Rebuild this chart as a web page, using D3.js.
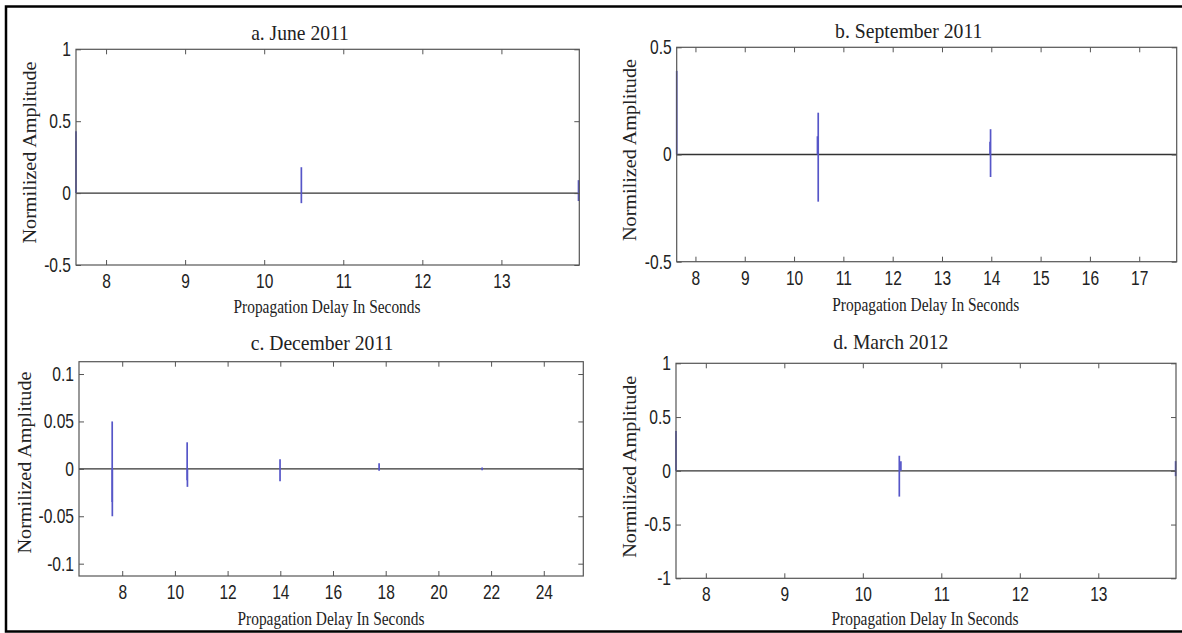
<!DOCTYPE html>
<html>
<head>
<meta charset="utf-8">
<script src="https://cdn.jsdelivr.net/npm/d3@7/dist/d3.min.js"></script>
<style>
  html, body { margin: 0; padding: 0; background: #fff; }
  svg { display: block; }
</style>
</head>
<body>
<script>
// ---------------- DATA ----------------
const titles = ["a. June 2011", "b. September 2011", "c. December 2011", "d. March 2012"];
const xLabel = "Propagation Delay In Seconds";
const yLabel = "Normilized Amplitude";

const xDomains = [[7.62, 13.985], [7.62, 17.76], [6.36, 25.5], [7.62, 13.99]];
const yDomains = [[-0.5, 1], [-0.5, 0.5], [-0.113, 0.113], [-1, 1]];

const xTicks = [
  [8, 9, 10, 11, 12, 13],
  [8, 9, 10, 11, 12, 13, 14, 15, 16, 17],
  [8, 10, 12, 14, 16, 18, 20, 22, 24],
  [8, 9, 10, 11, 12, 13]
];
const yTicks = [
  [-0.5, 0, 0.5, 1],
  [-0.5, 0, 0.5],
  [-0.1, -0.05, 0, 0.05, 0.1],
  [-1, -0.5, 0, 0.5, 1]
];

// spikes: delay (s), upper and lower amplitude of each vertical stroke
const juneDelay = [7.62, 10.47, 13.975];
const juneHigh  = [0.43, 0.18, 0.09];
const juneLow   = [0, -0.07, -0.055];

const septDelay = [7.62, 10.475, 10.49, 13.975, 13.985];
const septHigh  = [0.39, 0.085, 0.195, 0.06, 0.118];
const septLow   = [0, 0, -0.22, 0, -0.105];

const decDelay = [7.62, 7.625, 10.465, 10.475, 13.99, 17.75, 21.66];
const decHigh  = [0.05, 0, 0.028, 0, 0.01, 0.006, 0.0015];
const decLow   = [-0.035, -0.05, -0.012, -0.019, -0.013, -0.002, -0.0015];

const marDelay = [7.62, 10.465, 10.485, 13.985];
const marHigh  = [0.37, 0.14, 0.09, 0.09];
const marLow   = [0, -0.24, 0, -0.05];

const spikeSets = [
  [juneDelay, juneHigh, juneLow],
  [septDelay, septHigh, septLow],
  [decDelay, decHigh, decLow],
  [marDelay, marHigh, marLow]
];

// ---------------- LAYOUT ----------------
const W = 1182, H = 633;
const layout = [
  {l: 76,    t: 49.3,  r: 579.3,  b: 265,   tx: 300,   ty: 40,    tw: 97.7,  xlx: 327,   xly: 312.5, ylx: 36,  yly: 152.5},
  {l: 676.7, t: 47.3,  r: 1176.7, b: 261.7, tx: 908.7, ty: 38.3,  tw: 147.3, xlx: 925.8, xly: 311,   ylx: 636, yly: 150},
  {l: 79,    t: 361.7, r: 583.3,  b: 576,   tx: 322,   ty: 350,   tw: 142.6, xlx: 331,   xly: 625,   ylx: 31,  yly: 462.5},
  {l: 676,   t: 363.3, r: 1176,   b: 578.3, tx: 890.8, ty: 349.3, tw: 115,   xlx: 925,   xly: 625,   ylx: 636, yly: 466.7}
];

const axisColor = "#555";
const spikeColor = "#5656c8";
const textColor = "#222";

const svg = d3.select("body").append("svg")
  .attr("width", W).attr("height", H);

svg.append("rect").attr("x", 0).attr("y", 0).attr("width", W).attr("height", H).attr("fill", "#fff");

// outer frame
svg.append("path")
  .attr("d", `M${W + 5},6.5 L6,6.5 L6,631.5 L${W + 5},631.5`)
  .attr("fill", "none").attr("stroke", "#000").attr("stroke-width", 2.5);

const fmt = d => String(+(+d).toFixed(3));

layout.forEach((L, i) => {
  const x = d3.scaleLinear().domain(xDomains[i]).range([L.l, L.r]);
  const y = d3.scaleLinear().domain(yDomains[i]).range([L.b, L.t]);
  const g = svg.append("g");

  // zero line
  g.append("line")
    .attr("x1", L.l).attr("x2", L.r)
    .attr("y1", y(0)).attr("y2", y(0))
    .attr("stroke", "#333").attr("stroke-width", 1.3);

  // spikes
  const [dl, hi, lo] = spikeSets[i];
  g.selectAll("line.spike").data(dl.map((d, k) => ({t: d, h: hi[k], l: lo[k]})))
    .join("line").attr("class", "spike")
    .attr("x1", d => x(d.t)).attr("x2", d => x(d.t))
    .attr("y1", d => y(d.h)).attr("y2", d => y(d.l))
    .attr("stroke", spikeColor).attr("stroke-width", 1.7);

  // axes (inward ticks on all sides)
  const styleAxis = sel => {
    sel.select(".domain").remove();
    sel.selectAll(".tick line").attr("stroke", axisColor).attr("stroke-width", 1);
    sel.selectAll(".tick text").attr("fill", textColor).attr("font-family", "Liberation Sans, Arial, sans-serif");
  };

  const bottom = g.append("g").attr("transform", `translate(0,${L.b})`)
    .call(d3.axisBottom(x).tickValues(xTicks[i]).tickFormat(fmt).tickSizeInner(-5).tickSizeOuter(0).tickPadding(8));
  styleAxis(bottom);
  bottom.selectAll(".tick text").attr("font-size", 21).attr("transform", "scale(0.74,1)");

  const top = g.append("g").attr("transform", `translate(0,${L.t})`)
    .call(d3.axisTop(x).tickValues(xTicks[i]).tickFormat("").tickSizeInner(-5).tickSizeOuter(0));
  styleAxis(top);

  const left = g.append("g").attr("transform", `translate(${L.l},0)`)
    .call(d3.axisLeft(y).tickValues(yTicks[i]).tickFormat(fmt).tickSizeInner(-5).tickSizeOuter(0).tickPadding(5));
  styleAxis(left);
  left.selectAll(".tick text").attr("font-size", 20).attr("x", 0)
    .attr("transform", "translate(-5,0) scale(0.78,1)");

  const right = g.append("g").attr("transform", `translate(${L.r},0)`)
    .call(d3.axisRight(y).tickValues(yTicks[i]).tickFormat("").tickSizeInner(-5).tickSizeOuter(0));
  styleAxis(right);

  // box
  g.append("rect")
    .attr("x", L.l).attr("y", L.t).attr("width", L.r - L.l).attr("height", L.b - L.t)
    .attr("fill", "none").attr("stroke", axisColor).attr("stroke-width", 1.2);

  // title
  g.append("text").text(titles[i])
    .attr("x", L.tx).attr("y", L.ty).attr("text-anchor", "middle")
    .attr("font-family", "Liberation Serif, Times New Roman, serif").attr("font-size", 21)
    .attr("fill", textColor)
    .attr("textLength", L.tw).attr("lengthAdjust", "spacingAndGlyphs");

  // x label
  g.append("text").text(xLabel)
    .attr("x", L.xlx).attr("y", L.xly).attr("text-anchor", "middle")
    .attr("font-family", "Liberation Serif, Times New Roman, serif").attr("font-size", 19)
    .attr("fill", textColor)
    .attr("textLength", 187).attr("lengthAdjust", "spacingAndGlyphs");

  // y label
  g.append("text").text(yLabel)
    .attr("transform", `translate(${L.ylx},${L.yly}) rotate(-90)`)
    .attr("text-anchor", "middle")
    .attr("font-family", "Liberation Serif, Times New Roman, serif").attr("font-size", 19)
    .attr("fill", textColor)
    .attr("textLength", 182).attr("lengthAdjust", "spacingAndGlyphs");
});
</script>
</body>
</html>
